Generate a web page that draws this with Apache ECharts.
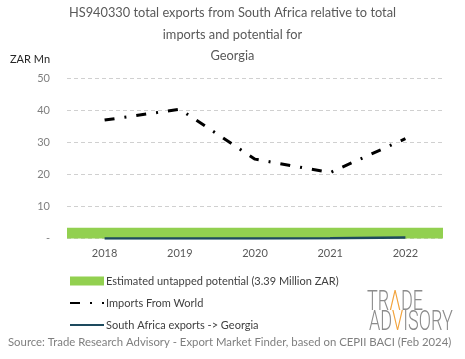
<!DOCTYPE html>
<html>
<head>
<meta charset="utf-8">
<script src="https://cdn.jsdelivr.net/npm/echarts@6/dist/echarts.min.js"></script>
<style>
html,body{margin:0;padding:0;background:#fff;}
#chart{width:465px;height:359px;}
</style>
</head>
<body>
<div id="chart"></div>
<script>
var years = ['2018', '2019', '2020', '2021', '2022'];
var importsFromWorld = [37.0, 40.4, 24.8, 20.6, 31.2];
var saExports = [0.0, 0.0, 0.0, 0.1, 0.3];
var untappedPotential = 3.39;
var yTicks = [0, 10, 20, 30, 40, 50];

var FONT = 'Lato';
var chart = echarts.init(document.getElementById('chart'), null, {renderer: 'canvas'});
var option = {
  animation: false,
  backgroundColor: '#fff',
  title: {
    text: 'HS940330 total exports from South Africa relative to total\nimports and potential for\nGeorgia',
    left: 'center',
    top: -2.5,
    textStyle: {fontFamily: FONT, fontSize: 12.8, fontWeight: 'normal', color: '#595959', lineHeight: 21.5}
  },
  grid: {left: 67, right: 22, top: 78.5, bottom: 120.5, containLabel: false},
  xAxis: {
    type: 'category',
    data: years,
    boundaryGap: true,
    axisLine: {show: false},
    axisTick: {show: false},
    axisLabel: {fontFamily: FONT, fontSize: 11, color: '#595959', margin: 9}
  },
  yAxis: {
    type: 'value',
    min: yTicks[0],
    max: yTicks[yTicks.length - 1],
    interval: 10,
    axisLine: {show: false},
    axisTick: {show: false},
    splitLine: {lineStyle: {type: [4, 3], color: '#d0d0d0', width: 1}},
    axisLabel: {
      fontFamily: FONT, fontSize: 11, color: '#7f7f7f', margin: 17,
      formatter: function (v) { return v === 0 ? '-' : String(v); }
    }
  },
  legend: {
    orient: 'vertical',
    left: 64,
    top: 269,
    itemWidth: 34,
    itemHeight: 9,
    itemGap: 8,
    textStyle: {fontFamily: FONT, fontSize: 11, color: '#404040', lineHeight: 14, padding: [0, 0, 0, -3]},
    data: [
      {name: 'Estimated untapped potential (3.39 Million ZAR)', icon: 'rect', itemStyle: {opacity: 1}},
      {name: 'Imports From World', itemStyle: {opacity: 0}},
      {name: 'South Africa exports -> Georgia', itemStyle: {opacity: 0}}
    ]
  },
  series: [
    {
      name: 'Estimated untapped potential (3.39 Million ZAR)',
      type: 'line',
      data: [],
      color: '#92D050',
      itemStyle: {color: '#92D050'},
      lineStyle: {width: 0},
      showSymbol: false,
      z: 1,
      markArea: {
        silent: true,
        itemStyle: {color: '#92D050', opacity: 1},
        data: [[{yAxis: 0}, {yAxis: untappedPotential}]]
      }
    },
    {
      name: 'Imports From World',
      type: 'line',
      data: importsFromWorld,
      color: '#000',
      showSymbol: false,
      symbol: 'none',
      smooth: false,
      z: 3,
      lineStyle: {color: '#000', width: 3, type: [10, 10, 2, 10], cap: 'butt'}
    },
    {
      name: 'South Africa exports -> Georgia',
      type: 'line',
      data: saExports,
      color: '#1d4a5e',
      showSymbol: false,
      symbol: 'none',
      z: 4,
      lineStyle: {color: '#1d4a5e', width: 2.5}
    }
  ],
  graphic: [
    {
      type: 'text', left: 10, top: 54,
      style: {text: 'ZAR Mn', fontFamily: FONT, fontSize: 11, fill: '#262626'}
    },
    {
      type: 'text', left: 8, top: 337,
      style: {text: 'Source: Trade Research Advisory - Export Market Finder, based on CEPII BACI (Feb 2024)', fontFamily: FONT, fontSize: 11.35, fill: '#7f7f7f'}
    },
    {
      type: 'group', x: 367, y: 289, scaleX: 0.645, scaleY: 1,
      children: [
        {
          type: 'text', x: 0, y: 0,
          style: {
            text: '{g|TR}{o|Λ}{g|DE}',
            rich: {
              g: {fontFamily: 'Roboto', fontWeight: 300, fontSize: 28, fill: '#8c8c8c'},
              o: {fontFamily: 'Roboto', fontWeight: 300, fontSize: 28, fill: '#f2a23a'}
            }
          }
        },
        {
          type: 'text', x: 3, y: 20,
          style: {
            text: '{g|AD}{o|V}{g|ISORY}',
            rich: {
              g: {fontFamily: 'Roboto', fontWeight: 300, fontSize: 28, fill: '#8c8c8c'},
              o: {fontFamily: 'Roboto', fontWeight: 300, fontSize: 28, fill: '#f2a23a'}
            }
          }
        }
      ]
    }
  ]
};
chart.setOption(option);
</script>
</body>
</html>
